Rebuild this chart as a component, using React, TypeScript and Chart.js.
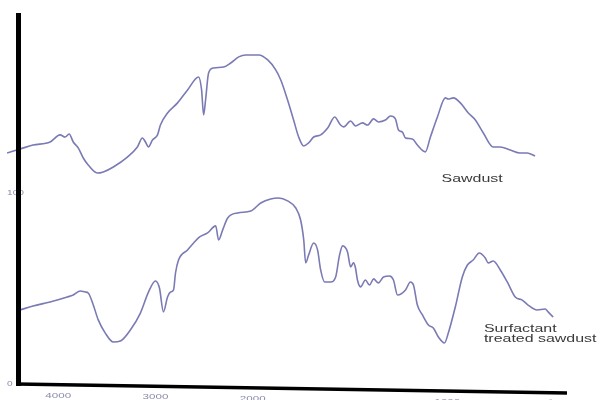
import React, { useEffect, useRef } from "react";
import { Chart, registerables, LinearScale } from "chart.js";

Chart.register(...registerables);

// FTIR spectra: transmittance (arbitrary offset units) vs wavenumber (cm⁻¹)
const sawdustWavenumbers = [
  4526, 4392, 4258, 4083, 3980, 3928, 3887, 3845, 3794, 3742, 3691, 3598, 3536, 3433, 3289,
  3186, 3134, 3103, 3072, 3031, 2979, 2949, 2876, 2773, 2670, 2557, 2526, 2505, 2485, 2454,
  2402, 2299, 2227, 2144, 2072, 2000, 1969, 1923, 1882, 1856, 1821, 1790, 1764, 1738, 1713,
  1687, 1651, 1615, 1579, 1549, 1533, 1497, 1472, 1436, 1410, 1379, 1354, 1318, 1292, 1267,
  1251, 1231, 1215, 1180, 1154, 1113, 1087, 1051, 1010, 995, 969, 933, 892, 856, 815,
  764, 728, 677, 626, 590, 549,
];
const sawdustValues = [
  121.1, 123.2, 125.3, 126.9, 130.6, 129.5, 131.1, 126.9, 123.8, 118.5, 114.8, 110.6, 111.2, 113.8, 119.0,
  124.3, 129.0, 126.9, 124.3, 127.9, 130.6, 135.8, 142.1, 147.4, 154.2, 161.0, 154.2, 141.1, 148.9, 163.1,
  165.7, 166.2, 168.3, 171.5, 172.5, 172.5, 172.5, 169.9, 164.7, 159.4, 148.9, 138.4, 129.5, 124.8, 126.4,
  129.5, 130.6, 134.2, 140.0, 135.8, 134.8, 137.9, 135.3, 136.9, 135.8, 139.0, 137.4, 138.4, 140.5, 139.0,
  133.2, 132.1, 129.0, 128.5, 125.3, 121.7, 129.5, 140.0, 150.0, 149.4, 150.0, 147.4, 142.1, 138.4, 131.6,
  124.3, 124.3, 122.7, 121.1, 121.1, 119.6,
];

const treatedWavenumbers = [
  4392, 4258, 4083, 3907, 3845, 3773, 3722, 3691, 3639, 3588, 3516, 3433, 3361, 3258, 3155,
  3072, 3000, 2959, 2918, 2876, 2845, 2814, 2794, 2763, 2670, 2608, 2546, 2464, 2381, 2351,
  2309, 2258, 2155, 2021, 1959, 1908, 1867, 1821, 1779, 1754, 1738, 1728, 1713, 1687, 1667,
  1651, 1631, 1600, 1574, 1554, 1538, 1513, 1497, 1482, 1472, 1462, 1446, 1421, 1400, 1379,
  1354, 1328, 1297, 1277, 1256, 1215, 1190, 1174, 1154, 1128, 1097, 1072, 1046, 1015, 995,
  959, 923, 897, 867, 836, 805, 790, 764, 728, 692, 651, 615, 585, 539, 497,
  482, 456,
];
const treatedValues = [
  38.8, 40.9, 43.0, 45.6, 46.7, 48.8, 48.2, 47.7, 41.4, 33.6, 26.7, 22.0, 22.5, 28.3, 37.2,
  48.2, 54.0, 50.3, 37.8, 45.6, 48.2, 49.3, 58.2, 65.0, 70.3, 73.9, 77.1, 79.2, 82.9, 75.5,
  80.8, 87.0, 89.7, 90.7, 94.9, 97.0, 97.5, 96.0, 92.3, 86.0, 75.5, 63.5, 67.6, 73.9, 70.3,
  59.8, 53.5, 53.5, 56.1, 67.6, 72.4, 69.2, 61.4, 63.5, 60.8, 54.5, 50.9, 54.5, 51.9, 55.1,
  53.0, 56.1, 56.6, 54.5, 46.7, 49.3, 53.5, 51.9, 41.4, 36.2, 30.9, 29.4, 24.6, 21.5, 26.7,
  40.4, 56.1, 62.4, 65.0, 68.7, 66.1, 63.5, 64.5, 59.8, 53.5, 45.6, 44.0, 41.4, 38.8, 39.3,
  37.8, 35.1,
];

const xTickValues = [4000, 3000, 2000, 1000];
const xUnitLabel = "cm⁻¹";
const yTickValues = [0, 100];

const seriesLabels = [
  { lines: ["Sawdust"], x: 1030, y: 106 },
  { lines: ["Surfactant", "treated sawdust"], x: 812, y: 27.3 },
];

// axis range and the 2x expansion of the scale below 2000 cm⁻¹
const X_MIN = 385;
const X_MAX = 4526;
const X_BREAK = 2000;
const X_EXPANSION = 2;
const Y_MIN = 0;
const Y_MAX = 194;

const LINE_COLOR = "rgb(122,122,180)";
const TICK_COLOR = "#8a8aae";
const LABEL_COLOR = "#3a3a3a";
const FONT = '"Liberation Sans", Arial, sans-serif';
const TEXT_STRETCH = 1.45;

// Wavenumber axis, decreasing left to right, with the usual scale change at 2000 cm⁻¹
class FtirScale extends LinearScale {
  static id = "ftir";
  static defaults = {};

  private offsetOf(value: number): number {
    return value >= X_BREAK
      ? X_MAX - value
      : X_MAX - X_BREAK + (X_BREAK - value) * X_EXPANSION;
  }

  getPixelForValue(value: number): number {
    const frac = this.offsetOf(value) / this.offsetOf(X_MIN);
    return this.left + frac * this.width;
  }

  getValueForPixel(pixel: number): number {
    const off = ((pixel - this.left) / this.width) * this.offsetOf(X_MIN);
    const upper = X_MAX - X_BREAK;
    return off <= upper ? X_MAX - off : X_BREAK - (off - upper) / X_EXPANSION;
  }
}
Chart.register(FtirScale as any);

function stretchedText(
  ctx: CanvasRenderingContext2D,
  text: string,
  x: number,
  y: number,
  align: "left" | "center"
) {
  const w = ctx.measureText(text).width * TEXT_STRETCH;
  const left = align === "center" ? x - w / 2 : x;
  ctx.save();
  ctx.translate(left, y);
  ctx.scale(TEXT_STRETCH, 1);
  ctx.textAlign = "left";
  ctx.fillText(text, 0, 0);
  ctx.restore();
}

const AXIS_SLOPE = 9 / 550;

const spectrumFrame = {
  id: "spectrumFrame",
  afterDatasetsDraw(chart: any) {
    const { ctx, chartArea } = chart;
    const xs = chart.scales.x;
    const ys = chart.scales.y;
    const axisX = chartArea.left + 11.5;
    const axisY0 = ys.getPixelForValue(Y_MIN);
    const baseline = (px: number) => axisY0 + (px - axisX) * AXIS_SLOPE;

    ctx.save();

    // y tick labels (partly hidden by the thick axis)
    ctx.fillStyle = TICK_COLOR;
    ctx.font = `7px ${FONT}`;
    ctx.textBaseline = "middle";
    for (const v of yTickValues) {
      stretchedText(ctx, String(v), chartArea.left, ys.getPixelForValue(v), "left");
    }

    // x tick labels following the slanted baseline
    ctx.font = `8px ${FONT}`;
    ctx.textBaseline = "top";
    for (const v of xTickValues) {
      const px = xs.getPixelForValue(v);
      stretchedText(ctx, String(v), px, baseline(px) + 7, "center");
    }
    const unitX = chartArea.right - 22;
    ctx.font = `7px ${FONT}`;
    stretchedText(ctx, xUnitLabel, unitX, baseline(unitX) + 6, "center");

    // axes
    ctx.strokeStyle = "#000";
    ctx.lineCap = "butt";
    ctx.lineWidth = 5;
    ctx.beginPath();
    ctx.moveTo(axisX, chartArea.top - 1);
    ctx.lineTo(axisX, axisY0 + 2);
    ctx.stroke();

    ctx.lineWidth = 3.5;
    ctx.beginPath();
    ctx.moveTo(axisX - 2, baseline(axisX - 2));
    ctx.lineTo(chartArea.right, baseline(chartArea.right));
    ctx.stroke();

    // series names
    ctx.fillStyle = LABEL_COLOR;
    ctx.font = `11px ${FONT}`;
    ctx.textBaseline = "alphabetic";
    for (const lab of seriesLabels) {
      const px = xs.getPixelForValue(lab.x);
      const py = ys.getPixelForValue(lab.y);
      lab.lines.forEach((line, i) => {
        stretchedText(ctx, line, px, py + i * 10, "left");
      });
    }

    ctx.restore();
  },
};

export default function App() {
  const canvasRef = useRef<HTMLCanvasElement | null>(null);

  useEffect(() => {
    const canvas = canvasRef.current;
    if (!canvas) return;

    const chart = new Chart(canvas, {
      type: "line",
      data: {
        datasets: [
          {
            label: "Sawdust",
            data: sawdustWavenumbers.map((w, i) => ({ x: w, y: sawdustValues[i] })),
          },
          {
            label: "Surfactant treated sawdust",
            data: treatedWavenumbers.map((w, i) => ({ x: w, y: treatedValues[i] })),
          },
        ],
      },
      options: {
        animation: false,
        responsive: false,
        devicePixelRatio: 1,
        layout: { padding: { left: 7, right: 34, top: 14, bottom: 16 } },
        scales: {
          x: { type: "ftir" as any, min: X_MIN, max: X_MAX, display: false },
          y: { type: "linear", min: Y_MIN, max: Y_MAX, display: false },
        },
        elements: {
          point: { radius: 0 },
          line: {
            borderColor: LINE_COLOR,
            borderWidth: 1.6,
            cubicInterpolationMode: "monotone",
            fill: false,
          },
        },
        plugins: {
          legend: { display: false },
          tooltip: { enabled: false },
        },
      },
      plugins: [spectrumFrame],
    });

    return () => chart.destroy();
  }, []);

  return (
    <div
      style={{
        position: "fixed",
        left: 0,
        top: 0,
        width: 601,
        height: 400,
        background: "#fff",
      }}
    >
      <canvas ref={canvasRef} width={601} height={400} style={{ display: "block" }} />
    </div>
  );
}
